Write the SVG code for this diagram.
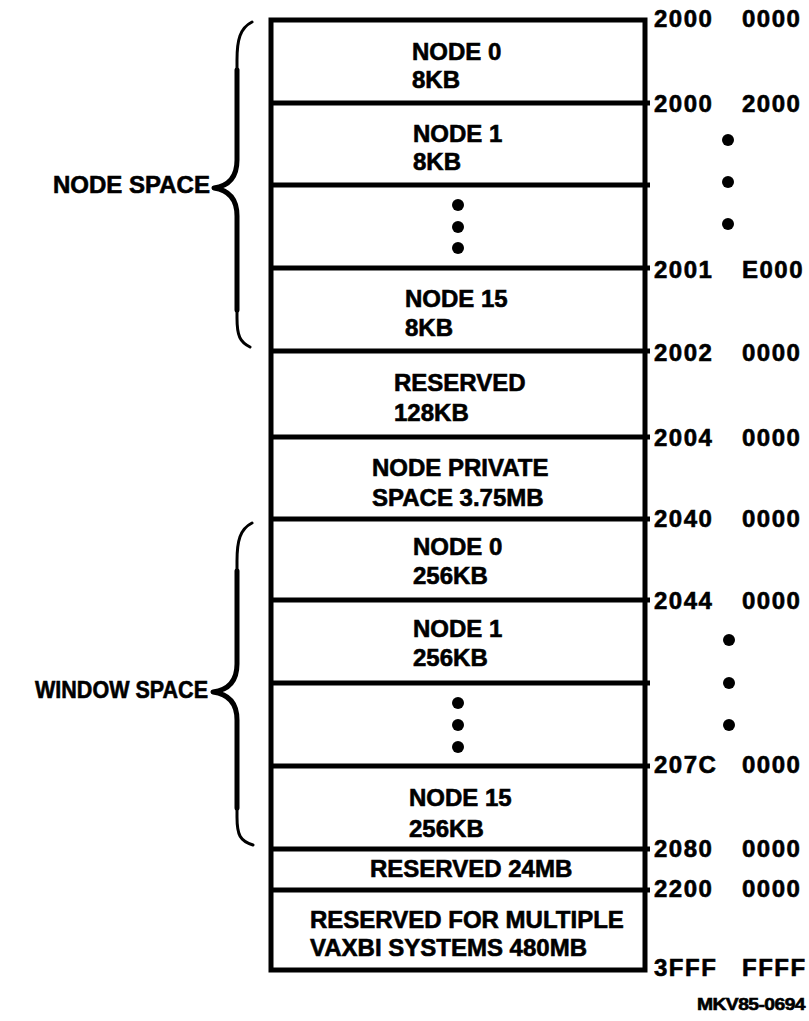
<svg xmlns="http://www.w3.org/2000/svg" width="809" height="1021" viewBox="0 0 809 1021">
<style>
  text { font-family: "Liberation Sans", Arial, sans-serif; font-weight: bold; font-size: 24px; fill: #000; stroke: #000; stroke-width: 0.6px; }
  .addr { letter-spacing: 1.5px; }
  .frame { fill: #fff; stroke: #000; stroke-width: 5; }
  .div { stroke: #000; stroke-width: 5; fill: none; }
  .brace { stroke: #000; stroke-width: 3; fill: none; stroke-linecap: round; stroke-linejoin: round; }
  .spine { stroke: #000; stroke-width: 5; fill: none; stroke-linecap: round; stroke-linejoin: round; }
  .dot { fill: #000; }
  .small { font-size: 17px; letter-spacing: -0.5px; }
</style>
<rect width="809" height="1021" fill="#fff"/>
<rect class="frame" x="271" y="20" width="374" height="950"/>
<g id="connectors">
  <line class="div" x1="271" y1="103" x2="650" y2="103"/>
  <line class="div" x1="271" y1="185" x2="650" y2="185"/>
  <line class="div" x1="271" y1="268" x2="650" y2="268"/>
  <line class="div" x1="271" y1="351" x2="650" y2="351"/>
  <line class="div" x1="271" y1="437" x2="650" y2="437"/>
  <line class="div" x1="271" y1="519" x2="650" y2="519"/>
  <line class="div" x1="271" y1="600" x2="650" y2="600"/>
  <line class="div" x1="271" y1="683" x2="650" y2="683"/>
  <line class="div" x1="271" y1="766" x2="650" y2="766"/>
  <line class="div" x1="271" y1="849" x2="650" y2="849"/>
  <line class="div" x1="271" y1="890" x2="650" y2="890"/>
  <path class="brace" d="M252,22 C240,28 237,40 237,60 L237,160 C237,178 228,186 214,188 C228,190 237,198 237,216 L237,318 C237,336 240,342 250,347"/>
  <path class="spine" d="M237,70 L237,160 C237,178 228,186 214,188 C228,190 237,198 237,216 L237,310"/>
  <path class="brace" d="M252,523 C240,529 237,541 237,561 L237,664 C237,682 228,690 213,692 C228,694 237,702 237,720 L237,817 C237,835 240,841 253,845"/>
  <path class="spine" d="M237,571 L237,664 C237,682 228,690 213,692 C228,694 237,702 237,720 L237,808"/>
</g>
<g id="node-space-label"><text x="53" y="193">NODE SPACE</text></g>
<g id="window-space-label"><text x="35" y="698" textLength="173" lengthAdjust="spacingAndGlyphs">WINDOW SPACE</text></g>
<g id="ns-node0"><text x="412" y="60">NODE 0</text><text x="412" y="88">8KB</text></g>
<g id="ns-node1"><text x="413" y="142">NODE 1</text><text x="413" y="170">8KB</text></g>
<g id="ns-dots"><circle class="dot" cx="458" cy="205" r="6"/><circle class="dot" cx="458" cy="227" r="6"/><circle class="dot" cx="458" cy="248" r="6"/></g>
<g id="ns-node15"><text x="405" y="307">NODE 15</text><text x="405" y="336">8KB</text></g>
<g id="reserved-128"><text x="394" y="391">RESERVED</text><text x="394" y="421">128KB</text></g>
<g id="node-private"><text x="372" y="476">NODE PRIVATE</text><text x="372" y="506">SPACE 3.75MB</text></g>
<g id="ws-node0"><text x="413" y="555">NODE 0</text><text x="413" y="584">256KB</text></g>
<g id="ws-node1"><text x="413" y="637">NODE 1</text><text x="413" y="666">256KB</text></g>
<g id="ws-dots"><circle class="dot" cx="458" cy="703" r="6"/><circle class="dot" cx="458" cy="725" r="6"/><circle class="dot" cx="458" cy="747" r="6"/></g>
<g id="ws-node15"><text x="409" y="806">NODE 15</text><text x="409" y="837">256KB</text></g>
<g id="reserved-24"><text x="370" y="877">RESERVED 24MB</text></g>
<g id="reserved-480"><text x="310" y="928">RESERVED FOR MULTIPLE</text><text x="310" y="956">VAXBI SYSTEMS 480MB</text></g>
<g id="addresses">
  <text class="addr" x="654" y="27">2000</text><text class="addr" x="742" y="27">0000</text>
  <text class="addr" x="654" y="112">2000</text><text class="addr" x="742" y="112">2000</text>
  <circle class="dot" cx="728" cy="140" r="6"/><circle class="dot" cx="728" cy="182" r="6"/><circle class="dot" cx="728" cy="224" r="6"/>
  <text class="addr" x="654" y="278">2001</text><text class="addr" x="742" y="278">E000</text>
  <text class="addr" x="654" y="361">2002</text><text class="addr" x="742" y="361">0000</text>
  <text class="addr" x="654" y="446">2004</text><text class="addr" x="742" y="446">0000</text>
  <text class="addr" x="654" y="527">2040</text><text class="addr" x="742" y="527">0000</text>
  <text class="addr" x="654" y="609">2044</text><text class="addr" x="742" y="609">0000</text>
  <circle class="dot" cx="729" cy="640" r="6"/><circle class="dot" cx="729" cy="683" r="6"/><circle class="dot" cx="729" cy="725" r="6"/>
  <text class="addr" x="654" y="773">207C</text><text class="addr" x="742" y="773">0000</text>
  <text class="addr" x="654" y="857">2080</text><text class="addr" x="742" y="857">0000</text>
  <text class="addr" x="654" y="897">2200</text><text class="addr" x="742" y="897">0000</text>
  <text class="addr" x="654" y="976">3FFF</text><text class="addr" x="742" y="976">FFFF</text>
</g>
<g id="figure-id"><text class="small" x="697" y="1010" textLength="108" lengthAdjust="spacingAndGlyphs">MKV85-0694</text></g>
</svg>
